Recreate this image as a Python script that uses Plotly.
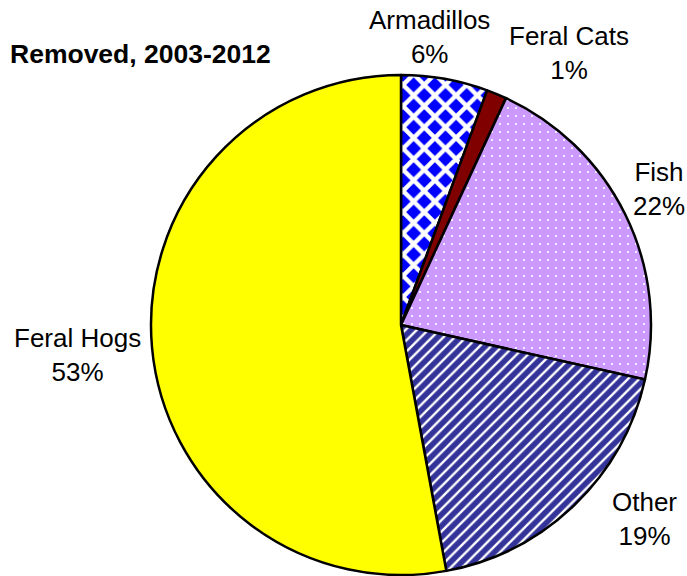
import plotly.graph_objects as go

categories = ["Armadillos", "Feral Cats", "Fish", "Other", "Feral Hogs"]
values = [5.6, 1.3, 21.6, 18.6, 52.9]
title_text = "Removed, 2003-2012"

colors = ["#0000FF", "#800000", "#CC99FF", "#333399", "#FFFF00"]
pat_shapes = ["x", "", ".", "/", ""]
pat_fg = ["#FFFFFF", "#800000", "#FFFFFF", "#FFFFFF", "#FFFF00"]
pat_bg = ["#0000FF", "#800000", "#CC99FF", "#333399", "#FFFF00"]
pat_size = [15, 8, 8, 8, 8]
pat_sol = [0.5, 0.3, 0.06, 0.3, 0.3]

# label centres in pixels (style)
label_px = [(429, 37), (569, 53), (659, 189), (644, 519), (77, 355)]

W, H = 687, 576
total = sum(values)
FONT = "Arial, Liberation Sans, sans-serif"

fig = go.Figure(go.Pie(
    labels=categories, values=values, sort=False, direction="clockwise",
    rotation=0, textinfo="none", hoverinfo="label+percent",
    marker=dict(colors=colors, line=dict(color="black", width=2.5),
                pattern=dict(shape=pat_shapes, fgcolor=pat_fg, bgcolor=pat_bg,
                             size=pat_size, solidity=pat_sol, fillmode="replace")),
    domain=dict(x=[151 / W, 651 / W], y=[(H - 575) / H, (H - 75) / H]),
    showlegend=False,
))

annotations = []
for c, v, (px, py) in zip(categories, values, label_px):
    annotations.append(dict(
        text=f"{c}<br>{round(100 * v / total)}%", x=px / W, y=1 - py / H,
        xref="paper", yref="paper", xanchor="center", yanchor="middle",
        showarrow=False, align="center",
        font=dict(family=FONT, size=26, color="black")))
annotations.append(dict(
    text=f"<b>{title_text}</b>", x=8 / W, y=1 - 54 / H, xref="paper", yref="paper",
    xanchor="left", yanchor="middle", showarrow=False,
    font=dict(family=FONT, size=26.5, color="black")))

fig.update_layout(width=W, height=H, margin=dict(l=0, r=0, t=0, b=0),
                  paper_bgcolor="white", plot_bgcolor="white",
                  annotations=annotations)
fig.write_html("out.html", config={"displayModeBar": False},
               post_script="document.body.style.margin='0';document.body.style.overflow='hidden';")
